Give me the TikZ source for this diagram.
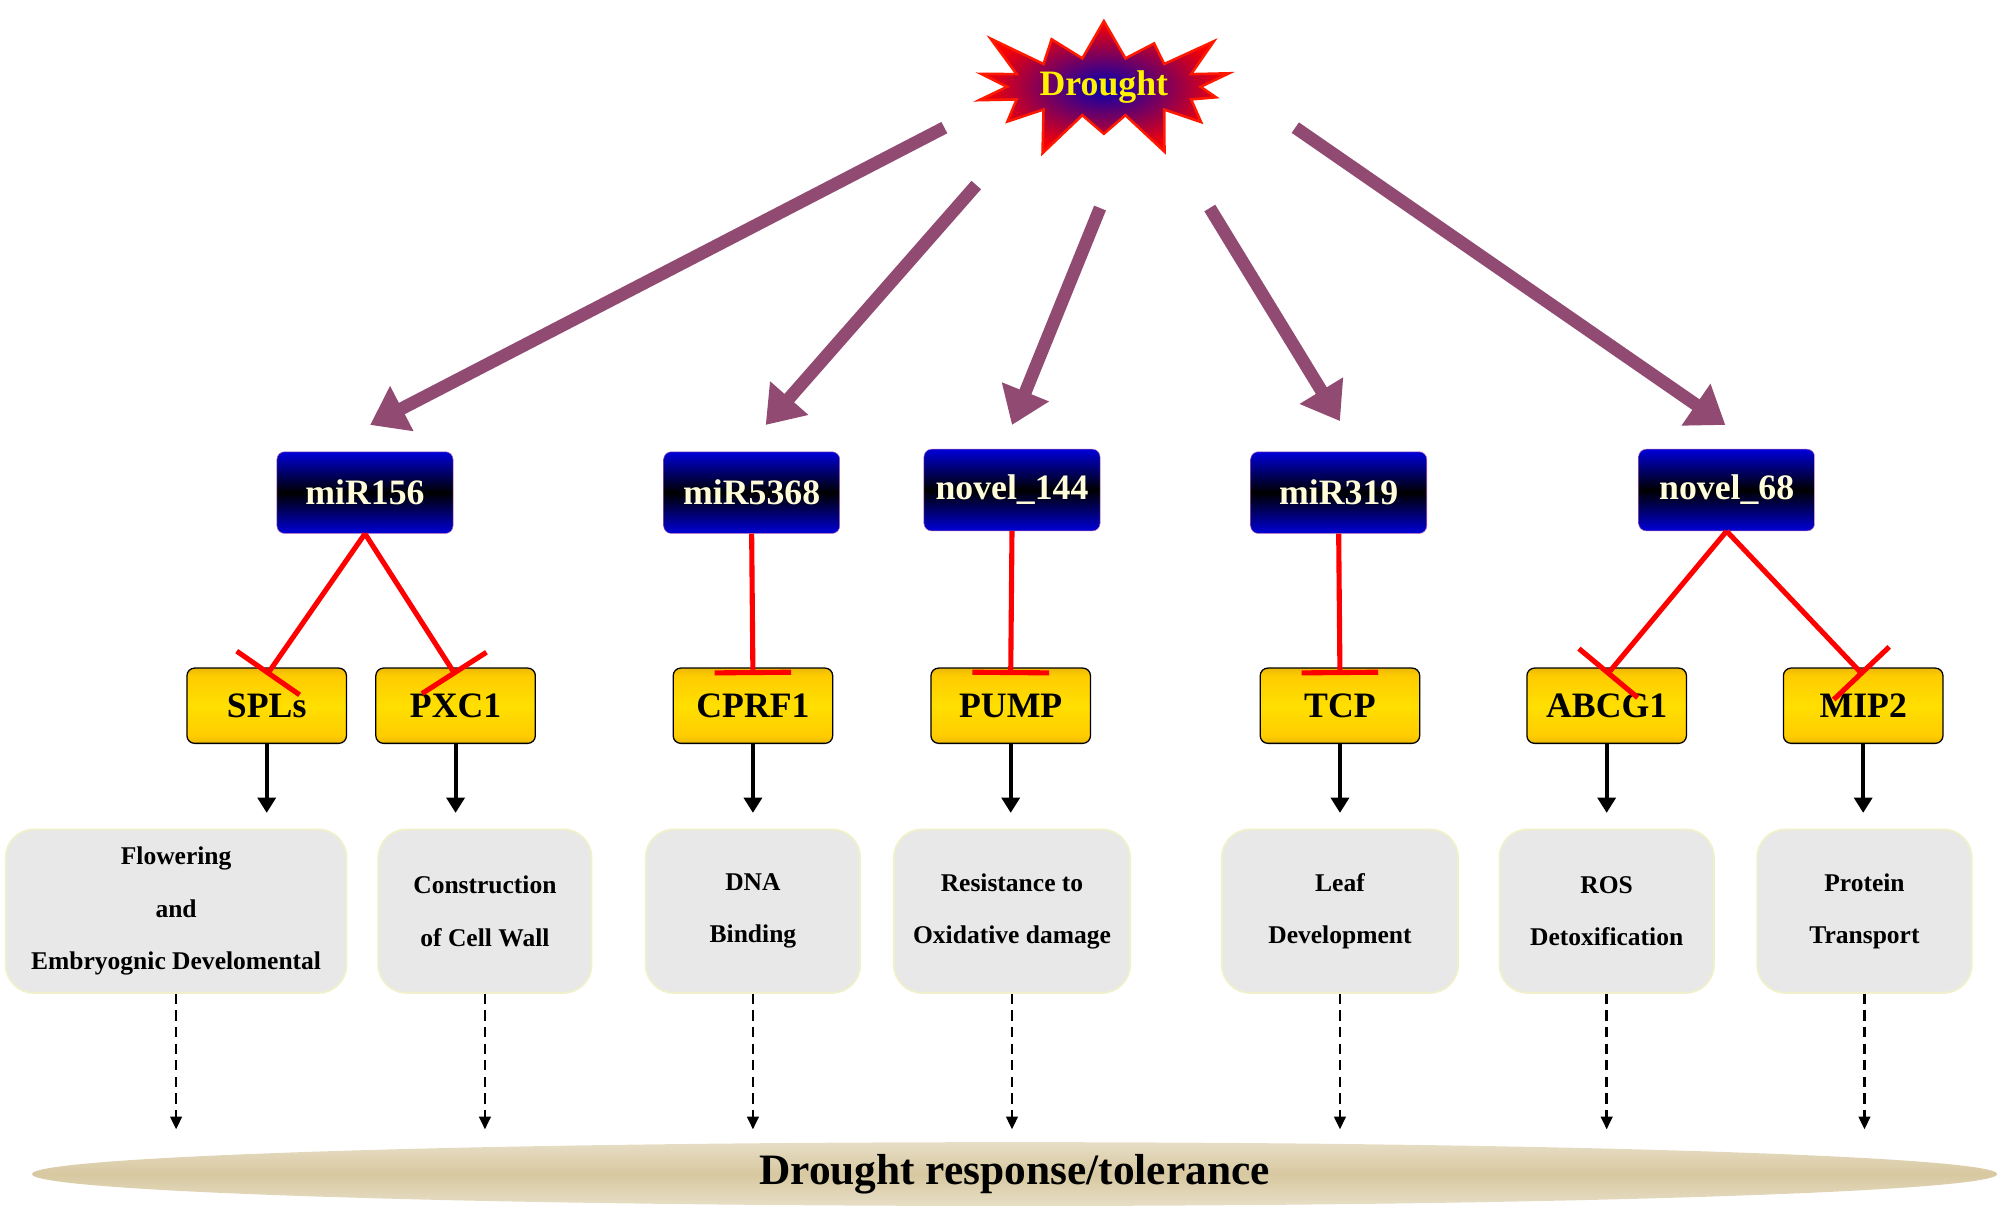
\documentclass[tikz,border=0pt]{standalone}
\usepackage{fontspec}
\setmainfont{Liberation Serif}
\usetikzlibrary{shapes.symbols,shapes.geometric,arrows.meta}
\pgfdeclareverticalshading{mirshade}{100bp}{color(0bp)=(violet!80!blue); color(25bp)=(blue!85!black); color(50bp)=(black); color(75bp)=(blue!85!black); color(100bp)=(violet!80!blue)}
\pgfdeclareverticalshading{geneshade}{100bp}{color(0bp)=(brown!70!black); color(30bp)=(yellow!60!orange); color(50bp)=(yellow!75!orange); color(70bp)=(yellow!60!orange); color(100bp)=(brown!70!black)}
\definecolor{arrowpurple}{RGB}{145,75,115}
\definecolor{funcfill}{RGB}{232,232,232}
\definecolor{funcdraw}{RGB}{240,240,205}
\definecolor{ellfill}{RGB}{215,200,160}
\tikzset{
  mir/.style={rectangle, rounded corners=6pt, shading=mirshade, draw=violet!60, minimum width=138pt, minimum height=64pt, text=yellow!15, font=\fontsize{28}{30}\selectfont\bfseries},
  gene/.style={rectangle, rounded corners=6pt, shading=geneshade, draw=black, line width=1pt, minimum width=125pt, minimum height=59pt, font=\fontsize{28}{30}\selectfont\bfseries},
  func/.style={rectangle, rounded corners=22pt, fill=funcfill, draw=funcdraw, line width=1.5pt, minimum height=128pt, align=center, font=\fontsize{20}{41}\selectfont\bfseries},
  big/.style={draw=arrowpurple, line width=10pt, -{Triangle[length=28pt,width=38pt]}},
  inhib/.style={draw=red, line width=4pt, -{Bar[width=60pt,line width=4pt]}},
  act/.style={draw=black, line width=3pt, -{Triangle[length=12pt,width=14pt]}},
  fdash/.style={draw=black, line width=2pt, dash pattern=on 8pt off 5pt, -{Triangle[length=10pt,width=9pt]}}
}
\begin{document}
\begin{tikzpicture}[x=1pt,y=-1pt]
\useasboundingbox (0,0) rectangle (1568,951);
% Drought stress
\node[starburst, starburst points=14, starburst point height=40pt, inner color=blue!70!black, outer color=red, draw=red!80!orange, line width=2pt, minimum width=215pt, minimum height=120pt, text=yellow, font=\fontsize{28}{30}\selectfont\bfseries] (drought) at (865,68) {Drought};
% miRNAs
\node[mir] (m156) at (286,386) {miR156};
\node[mir] (m5368) at (589,386) {miR5368};
\node[mir] (n144) at (793,384) {novel\_144};
\node[mir] (m319) at (1049,386) {miR319};
\node[mir] (n68) at (1353,384) {novel\_68};
% target genes
\node[gene] (spl) at (209,553) {SPLs};
\node[gene] (pxc) at (357,553) {PXC1};
\node[gene] (cprf) at (590,553) {CPRF1};
\node[gene] (pump) at (792,553) {PUMP};
\node[gene] (tcp) at (1050,553) {TCP};
\node[gene] (abcg) at (1259,553) {ABCG1};
\node[gene] (mip) at (1460,553) {MIP2};
% functions
\node[func, minimum width=267pt] (f1) at (138,714) {Flowering\\and\\Embryognic Develomental};
\node[func, minimum width=167pt] (f2) at (380,714) {Construction\\of Cell Wall};
\node[func, minimum width=168pt] (f3) at (590,714) {DNA\\Binding};
\node[func, minimum width=185pt] (f4) at (793,714) {Resistance to\\Oxidative damage};
\node[func, minimum width=185pt] (f5) at (1050,714) {Leaf\\Development};
\node[func, minimum width=168pt] (f6) at (1259,714) {ROS\\Detoxification};
\node[func, minimum width=168pt] (f7) at (1461,714) {Protein\\Transport};
% response
\node[ellipse, shade, top color=ellfill!60, bottom color=ellfill!60, middle color=ellfill, minimum width=1540pt, minimum height=50pt, inner sep=0pt, font=\fontsize{34}{36}\selectfont\bfseries] (resp) at (795,920) {Drought response/tolerance};
% coordinates for arrow starts
\coordinate (s1) at (740,100);
\coordinate (s2) at (765,145);
\coordinate (s3) at (862,163);
\coordinate (s4) at (948,163);
\coordinate (s5) at (1015,100);
\coordinate (e1) at (290,333);
\coordinate (e2) at (600,333);
\coordinate (e3) at (793,333);
\coordinate (e4) at (1050,330);
\coordinate (e5) at (1352,333);
\draw[big] (s1) -- (e1);
\draw[big] (s2) -- (e2);
\draw[big] (s3) -- (e3);
\draw[big] (s4) -- (e4);
\draw[big] (s5) -- (e5);
% inhibition
\draw[inhib] (m156.south) -- ([yshift=-6pt]spl.north);
\draw[inhib] (m156.south) -- ([yshift=-6pt]pxc.north);
\draw[inhib] (m5368.south) -- ([yshift=-6pt]cprf.north);
\draw[inhib] (n144.south) -- ([yshift=-6pt]pump.north);
\draw[inhib] (m319.south) -- ([yshift=-6pt]tcp.north);
\draw[inhib] (n68.south) -- ([yshift=-6pt]abcg.north);
\draw[inhib] (n68.south) -- ([yshift=-6pt]mip.north);
% genes to functions
\foreach \g/\x in {spl/209,pxc/357,cprf/590,pump/792,tcp/1050,abcg/1259,mip/1460}
  \draw[act] (\g.south) -- (\x,637);
\foreach \f/\x in {f1/138,f2/380,f3/590,f4/793,f5/1050,f6/1259,f7/1461}
  \draw[fdash] (\f.south) -- (\x,885);
\end{tikzpicture}
\end{document}
